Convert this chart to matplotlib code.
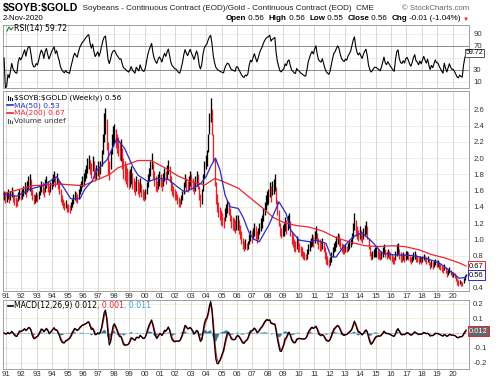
import numpy as np
import pandas as pd
import matplotlib
matplotlib.use("Agg")
import matplotlib.pyplot as plt
from matplotlib.lines import Line2D

# ---------------- data (monthly high / low of the weekly bars, Nov-1990 .. Nov-2020) -------------
hi = [1.60, 1.58,
      1.58, 1.62, 1.56, 1.60, 1.64, 1.58, 1.55, 1.52, 1.50, 1.58, 1.62, 1.60,   # 1991
      1.62, 1.66, 1.70, 1.65, 1.72, 1.78, 1.80, 1.74, 1.62, 1.56, 1.55, 1.58,   # 1992
      1.56, 1.60, 1.66, 1.72, 1.70, 1.64, 1.74, 1.78, 1.72, 1.66, 1.70, 1.76,   # 1993
      1.80, 1.84, 1.78, 1.82, 1.76, 1.72, 1.62, 1.55, 1.50, 1.46, 1.48, 1.44,   # 1994
      1.44, 1.42, 1.46, 1.50, 1.56, 1.60, 1.58, 1.56, 1.62, 1.68, 1.72, 1.78,   # 1995
      1.82, 1.86, 1.92, 2.00, 2.04, 1.98, 1.94, 2.02, 1.96, 1.88, 1.92, 1.96,   # 1996
      1.90, 1.96, 2.10, 2.30, 2.55, 2.62, 2.48, 2.20, 1.96, 2.10, 2.30, 2.40,   # 1997
      2.42, 2.36, 2.30, 2.26, 2.20, 2.24, 2.12, 2.00, 1.96, 1.92, 1.88, 1.84,   # 1998
      1.86, 1.90, 1.82, 1.76, 1.72, 1.78, 1.74, 1.70, 1.76, 1.68, 1.62, 1.60,   # 1999
      1.62, 1.70, 1.80, 1.88, 1.96, 2.06, 1.94, 1.84, 1.78, 1.72, 1.80, 1.84,   # 2000
      1.80, 1.74, 1.82, 1.88, 1.84, 1.92, 1.98, 1.90, 1.78, 1.70, 1.66, 1.62,   # 2001
      1.60, 1.56, 1.52, 1.50, 1.54, 1.60, 1.70, 1.80, 1.76, 1.72, 1.78, 1.84,   # 2002
      1.80, 1.76, 1.72, 1.78, 1.84, 1.80, 1.66, 1.56, 1.62, 1.80, 1.96, 2.04,   # 2003
      2.10, 2.30, 2.55, 2.74, 2.60, 2.30, 2.00, 1.70, 1.56, 1.46, 1.40, 1.36,   # 2004
      1.32, 1.28, 1.38, 1.44, 1.48, 1.46, 1.38, 1.30, 1.28, 1.26, 1.24, 1.30,   # 2005
      1.30, 1.24, 1.18, 1.10, 1.02, 0.98, 1.00, 0.96, 0.98, 1.06, 1.12, 1.10,   # 2006
      1.14, 1.20, 1.16, 1.10, 1.14, 1.20, 1.26, 1.30, 1.38, 1.46, 1.54, 1.60,   # 2007
      1.62, 1.70, 1.66, 1.72, 1.74, 1.80, 1.64, 1.48, 1.36, 1.20, 1.14, 1.18,   # 2008
      1.20, 1.28, 1.24, 1.30, 1.32, 1.22, 1.10, 1.06, 1.00, 0.98, 1.04, 1.00,   # 2009
      0.96, 0.92, 0.90, 0.86, 0.84, 0.82, 0.88, 0.94, 0.98, 1.02, 1.06, 1.04,   # 2010
      1.10, 1.16, 1.08, 1.02, 1.00, 0.98, 1.02, 0.96, 0.90, 0.84, 0.80, 0.76,   # 2011
      0.78, 0.84, 0.90, 0.96, 0.98, 1.04, 1.08, 1.06, 1.00, 0.96, 0.94, 0.92,   # 2012
      0.94, 0.92, 0.96, 0.98, 1.00, 1.08, 1.20, 1.32, 1.24, 1.16, 1.12, 1.16,   # 2013
      1.12, 1.08, 1.14, 1.18, 1.22, 1.16, 1.02, 0.92, 0.84, 0.86, 0.88, 0.90,   # 2014
      0.90, 0.88, 0.86, 0.84, 0.86, 0.90, 0.94, 0.88, 0.86, 0.88, 0.86, 0.84,   # 2015
      0.82, 0.80, 0.78, 0.86, 0.94, 0.96, 0.88, 0.84, 0.82, 0.84, 0.82, 0.86,   # 2016
      0.86, 0.84, 0.80, 0.78, 0.80, 0.84, 0.86, 0.82, 0.80, 0.78, 0.80, 0.78,   # 2017
      0.80, 0.82, 0.80, 0.78, 0.80, 0.76, 0.72, 0.74, 0.72, 0.74, 0.76, 0.74,   # 2018
      0.74, 0.72, 0.70, 0.68, 0.66, 0.70, 0.66, 0.62, 0.64, 0.66, 0.62, 0.60,   # 2019
      0.60, 0.58, 0.56, 0.52, 0.50, 0.50, 0.48, 0.47, 0.52, 0.56, 0.57]         # 2020

lo = [1.48, 1.45,
      1.46, 1.50, 1.45, 1.48, 1.52, 1.46, 1.42, 1.40, 1.41, 1.47, 1.50, 1.48,   # 1991
      1.50, 1.53, 1.56, 1.52, 1.58, 1.62, 1.60, 1.55, 1.48, 1.44, 1.45, 1.47,   # 1992
      1.46, 1.49, 1.54, 1.58, 1.56, 1.52, 1.58, 1.63, 1.58, 1.54, 1.58, 1.62,   # 1993
      1.66, 1.70, 1.64, 1.68, 1.62, 1.56, 1.46, 1.42, 1.38, 1.36, 1.38, 1.34,   # 1994
      1.33, 1.32, 1.36, 1.40, 1.44, 1.48, 1.46, 1.45, 1.50, 1.56, 1.60, 1.64,   # 1995
      1.66, 1.72, 1.76, 1.82, 1.86, 1.80, 1.76, 1.84, 1.76, 1.72, 1.74, 1.78,   # 1996
      1.74, 1.80, 1.90, 2.05, 2.20, 2.30, 2.10, 1.80, 1.73, 1.86, 2.05, 2.15,   # 1997
      2.18, 2.12, 2.06, 2.02, 1.98, 1.96, 1.86, 1.74, 1.72, 1.68, 1.64, 1.62,   # 1998
      1.64, 1.68, 1.62, 1.58, 1.54, 1.60, 1.56, 1.52, 1.58, 1.52, 1.48, 1.47,   # 1999
      1.50, 1.56, 1.64, 1.72, 1.78, 1.86, 1.74, 1.66, 1.60, 1.58, 1.62, 1.66,   # 2000
      1.64, 1.60, 1.66, 1.72, 1.68, 1.74, 1.80, 1.70, 1.60, 1.54, 1.52, 1.48,   # 2001
      1.48, 1.44, 1.40, 1.40, 1.44, 1.48, 1.56, 1.64, 1.60, 1.58, 1.62, 1.66,   # 2002
      1.62, 1.60, 1.56, 1.60, 1.66, 1.62, 1.48, 1.40, 1.44, 1.60, 1.76, 1.86,   # 2003
      1.90, 2.08, 2.30, 2.45, 2.28, 1.95, 1.66, 1.44, 1.34, 1.28, 1.24, 1.18,   # 2004
      1.16, 1.14, 1.22, 1.28, 1.32, 1.30, 1.22, 1.14, 1.12, 1.10, 1.08, 1.12,   # 2005
      1.12, 1.06, 1.00, 0.94, 0.88, 0.86, 0.88, 0.87, 0.88, 0.94, 0.98, 0.96,   # 2006
      1.00, 1.04, 1.00, 0.96, 1.00, 1.06, 1.10, 1.14, 1.22, 1.30, 1.36, 1.42,   # 2007
      1.44, 1.52, 1.46, 1.54, 1.56, 1.60, 1.44, 1.30, 1.16, 1.04, 1.02, 1.04,   # 2008
      1.04, 1.10, 1.06, 1.12, 1.14, 1.04, 0.94, 0.90, 0.86, 0.84, 0.88, 0.84,   # 2009
      0.84, 0.80, 0.78, 0.76, 0.74, 0.74, 0.76, 0.82, 0.86, 0.90, 0.92, 0.90,   # 2010
      0.96, 1.00, 0.94, 0.88, 0.86, 0.86, 0.88, 0.84, 0.76, 0.70, 0.68, 0.66,   # 2011
      0.68, 0.72, 0.78, 0.84, 0.86, 0.90, 0.94, 0.92, 0.88, 0.84, 0.82, 0.82,   # 2012
      0.84, 0.84, 0.86, 0.88, 0.90, 0.94, 1.02, 1.12, 1.04, 1.00, 0.98, 1.00,   # 2013
      0.98, 0.96, 1.00, 1.04, 1.06, 1.00, 0.88, 0.80, 0.75, 0.76, 0.78, 0.78,   # 2014
      0.78, 0.76, 0.76, 0.74, 0.76, 0.78, 0.82, 0.78, 0.76, 0.78, 0.76, 0.74,   # 2015
      0.72, 0.70, 0.69, 0.74, 0.80, 0.82, 0.76, 0.72, 0.72, 0.74, 0.72, 0.74,   # 2016
      0.76, 0.74, 0.72, 0.70, 0.72, 0.74, 0.76, 0.72, 0.72, 0.70, 0.72, 0.70,   # 2017
      0.72, 0.74, 0.72, 0.70, 0.72, 0.68, 0.64, 0.66, 0.64, 0.66, 0.68, 0.66,   # 2018
      0.66, 0.64, 0.62, 0.60, 0.58, 0.62, 0.58, 0.54, 0.56, 0.58, 0.56, 0.54,   # 2019
      0.54, 0.52, 0.48, 0.44, 0.43, 0.45, 0.43, 0.42, 0.46, 0.50, 0.55]         # 2020

ma50_t = [1990.8, 1991.7, 1992.6, 1993.4, 1994.3, 1995.2, 1995.8, 1996.13, 1996.6, 1996.9, 1997.56,
          1998.2, 1998.7, 1999.25, 1999.57, 2000.22, 2000.87, 2001.52, 2002.17, 2002.62, 2003.27,
          2003.66, 2003.99, 2004.3, 2004.6, 2004.9, 2005.23, 2005.56, 2006.08, 2006.4, 2006.79,
          2007.1, 2007.45, 2008.08, 2008.73, 2009.18, 2009.5, 2010.03, 2010.68, 2011.13, 2011.78,
          2012.1, 2012.43, 2012.88, 2013.53, 2014.12, 2014.77, 2015.42, 2016.06, 2017.36, 2018.21,
          2019.12, 2019.77, 2020.42, 2020.85]
ma50_v = [1.56, 1.53, 1.62, 1.66, 1.77, 1.50, 1.50, 1.62, 1.72, 1.85, 1.98,
          2.24, 2.12, 1.89, 1.79, 1.71, 1.75, 1.74, 1.64, 1.58, 1.64,
          1.69, 1.77, 1.90, 2.00, 1.85, 1.54, 1.40, 1.38, 1.27, 1.08,
          1.00, 0.97, 1.18, 1.46, 1.32, 1.11, 0.99, 0.97, 0.99, 0.95,
          0.79, 0.78, 0.90, 1.03, 1.08, 0.97, 0.83, 0.81, 0.80, 0.77,
          0.71, 0.62, 0.52, 0.53]

ma200_t = [1990.8, 1992.75, 1994.5, 1996.0, 1997.75, 1998.27, 1999.57, 2000.42, 2001.32, 2002.17,
           2003.01, 2003.92, 2004.57, 2005.23, 2006.08, 2006.79, 2007.7, 2008.34, 2008.99, 2009.83,
           2010.68, 2011.58, 2012.43, 2013.27, 2014.31, 2015.22, 2016.06, 2016.91, 2017.82, 2018.66,
           2019.51, 2020.42, 2020.87]
ma200_v = [1.56, 1.66, 1.68, 1.66, 1.80, 1.88, 1.97, 1.97, 1.88, 1.78,
           1.71, 1.67, 1.75, 1.70, 1.63, 1.52, 1.38, 1.27, 1.21, 1.17,
           1.15, 1.10, 1.02, 0.97, 0.92, 0.91, 0.92, 0.91, 0.87, 0.81,
           0.77, 0.71, 0.67]

year_ticks = list(range(1991, 2021))
year_labels = ['%02d' % (y % 100) for y in year_ticks]
price_ticks = [0.4, 0.6, 0.8, 1.0, 1.2, 1.4, 1.6, 1.8, 2.0, 2.2, 2.4, 2.6]
rsi_ticks = [10, 30, 50, 70, 90]
macd_ticks = [-0.2, -0.1, 0.0, 0.1, 0.2]

# ---------------- derived series ----------------
hi = np.array(hi); lo = np.array(lo)
n = len(hi)
t = 1990 + 10/12 + (np.arange(n) + 0.5) / 12
mid = pd.Series((hi + lo) / 2)
down = np.r_[False, mid.values[1:] < mid.values[:-1]]

d = mid.diff()
RSI_N = 8
up_s = d.clip(lower=0).ewm(alpha=1/RSI_N, adjust=False).mean()
dn_s = (-d.clip(upper=0)).ewm(alpha=1/RSI_N, adjust=False).mean()
rsi = (100 - 100 / (1 + up_s / dn_s)).fillna(50)

ema_f = mid.ewm(span=12/4.33, adjust=False).mean()
ema_s = mid.ewm(span=26/4.33, adjust=False).mean()
macd = ema_f - ema_s
sig = macd.ewm(span=9/4.33, adjust=False).mean()
hist = macd - sig

# ---------------- figure ----------------
W, H = 500, 388
fig = plt.figure(figsize=(5, 3.88), dpi=100)
fig.patch.set_facecolor('white')
plt.rcParams['font.family'] = ['Liberation Sans', 'DejaVu Sans']

def px_axes(x0, y0, x1, y1):
    return fig.add_axes([x0 / W, 1 - y1 / H, (x1 - x0) / W, (y1 - y0) / H])

XMIN = 1991 - 3 / 15.4
XMAX = 1991 + 463 / 15.4
VGRID = '#d2d2d2'
HGRID = '#dcdcb4'
SPINE = '#a0a0a0'

def style(ax, yticks, ylabels):
    ax.set_xlim(XMIN, XMAX)
    for s in ax.spines.values():
        s.set_color(SPINE); s.set_linewidth(0.7)
    for y in year_ticks:
        ax.axvline(y, color=VGRID, lw=0.6, zorder=0)
    for v in yticks:
        ax.axhline(v, color=HGRID, lw=0.6, ls=(0, (1, 1)), zorder=0)
    ax.yaxis.tick_right()
    ax.set_yticks(yticks)
    ax.set_yticklabels(ylabels, fontsize=5.6, color='#333333')
    ax.tick_params(axis='y', length=0, pad=3)
    ax.tick_params(axis='x', length=0, pad=1.5, labelsize=5.6, labelcolor='#333333')

def vbox(ax, y, s, ec, fc='white', tc='black', z=6, x=1.0, fs=5.4, pad=0.18):
    ax.text(x, y, s, transform=ax.get_yaxis_transform(), ha='left', va='center',
            fontsize=fs, color=tc, zorder=z, clip_on=False,
            bbox=dict(boxstyle='square,pad=%g' % pad, fc=fc, ec=ec, lw=0.7))

# ---- RSI panel ----
ax1 = px_axes(3, 25, 469, 88)
style(ax1, rsi_ticks, ['10', '30', '', '70', '90'])
ax1.set_ylim(0, 105)
ax1.set_xticks([])
for v in (30, 70):
    ax1.axhline(v, color='#8c8c8c', lw=0.7, zorder=1)
ax1.plot(t, rsi, color='black', lw=0.8, zorder=3)
vbox(ax1, 58.5, '59.72', '#555555', x=0.992, fs=5.0, pad=0.1)
fig.text(14 / W, 1 - 29 / H, 'RSI(14) 59.72', fontsize=5.6, family='DejaVu Sans',
         va='center', ha='left')
fig.add_artist(Line2D([7 / W, 9 / W, 11 / W, 13 / W],
                      [1 - 31 / H, 1 - 27 / H, 1 - 30 / H, 1 - 27.5 / H], color='#2a7a2a', lw=0.8))

# ---- price panel ----
ax2 = px_axes(3, 91, 469, 291)
style(ax2, price_ticks, ['0.4', ''] + ['%.1f' % v for v in price_ticks[2:]])
ax2.set_ylim(0.363, 2.826)
ax2.set_xticks(year_ticks)
ax2.set_xticklabels(year_labels)
ax2.vlines(t[~down], lo[~down], hi[~down], color='black', lw=0.95, zorder=3)
ax2.vlines(t[down], lo[down], hi[down], color='#e8202a', lw=0.95, zorder=3)
ax2.plot(ma200_t, ma200_v, color='#ee2233', lw=0.9, zorder=4)
ax2.plot(ma50_t, ma50_v, color='#2a2ac8', lw=0.9, zorder=5)
vbox(ax2, 0.67, '0.67', '#ee2233')
vbox(ax2, 0.56, '0.56', '#2a2ac8', z=7)

legend = [('$SOYB:$GOLD (Weekly) 0.56', 'black', 97.5),
          ('MA(50) 0.53', '#2a2ac8', 105.3),
          ('MA(200) 0.67', '#ee2233', 113.0),
          ('Volume undef', '#333333', 120.7)]
for s, c, y in legend:
    fig.text(14 / W, 1 - y / H, s, fontsize=5.4, family='DejaVu Sans', color=c,
             va='center', ha='left', parse_math=False)
fig.add_artist(Line2D([7 / W, 13 / W], [1 - 105.3 / H] * 2, color='#2a2ac8', lw=1.2))
fig.add_artist(Line2D([7 / W, 13 / W], [1 - 113.0 / H] * 2, color='#ee2233', lw=1.2))
for k, xx in enumerate([8, 10, 12]):
    fig.add_artist(Line2D([xx / W] * 2, [1 - 100 / H, 1 - (95.5 + k) / H], color='black', lw=0.8))
    fig.add_artist(Line2D([xx / W] * 2, [1 - 123 / H, 1 - (118.5 + k) / H], color='#555555', lw=0.8))

# ---- MACD panel ----
ax3 = px_axes(3, 300, 469, 369)
style(ax3, macd_ticks, ['-0.2', '-0.1', '', '0.1', '0.2'])
ax3.set_ylim(-0.244, 0.224)
ax3.set_xticks(year_ticks)
ax3.set_xticklabels(year_labels)
ax3.fill_between(t, 0, hist, color='#2b7d9c', lw=0, zorder=2)
ax3.plot(t, sig, color='#e8202a', lw=0.9, zorder=3)
ax3.plot(t, macd, color='black', lw=0.9, zorder=4)
vbox(ax3, 0.012, '0.012', '#e8202a', fc='#666666', tc='white', z=7)

r = fig.canvas.get_renderer()

def chain(x, y, parts):
    for s, kw in parts:
        tx = fig.text(x / W, 1 - y / H, s, va='center', ha='left', parse_math=False, **kw)
        x += tx.get_window_extent(renderer=r).width
    return x

chain(14, 305.5, [('MACD(12,26,9) 0.012', dict(fontsize=5.6, family='DejaVu Sans', color='black')),
                  (', 0.001', dict(fontsize=5.6, family='DejaVu Sans', color='#e8202a')),
                  (', 0.011', dict(fontsize=5.6, family='DejaVu Sans', color='#3aa0d0'))])
fig.add_artist(Line2D([8 / W, 13 / W], [1 - 305.5 / H] * 2, color='black', lw=1.2))

# ---- header ----
chain(3, 8, [('$SOYB:$GOLD', dict(fontsize=7.6, weight='bold', color='black')),
             ('  Soybeans - Continuous Contract (EOD)/Gold - Continuous Contract (EOD)  CME',
              dict(fontsize=5.9, color='#222222'))])
fig.text(469 / W, 1 - 9 / H, '\u00a9 StockCharts.com', fontsize=5.6, color='#666666',
         ha='right', va='center')
fig.text(3 / W, 1 - 18.5 / H, '2-Nov-2020', fontsize=5.6, color='black', ha='left', va='center')
B = dict(fontsize=5.8, weight='bold', color='black')
N = dict(fontsize=5.8, color='black')
xe = chain(226, 19, [('Open', B), (' 0.56  ', N), ('High', B), (' 0.56  ', N), ('Low', B),
                     (' 0.55  ', N), ('Close', B), (' 0.56  ', N), ('Chg', B),
                     (' -0.01 (-1.04%) ', N)])
fig.text(xe / W, 1 - 19 / H, '\u25bc', fontsize=4.5, color='#e8202a', ha='left', va='center')

fig.savefig('out.png', dpi=100, facecolor='white')
